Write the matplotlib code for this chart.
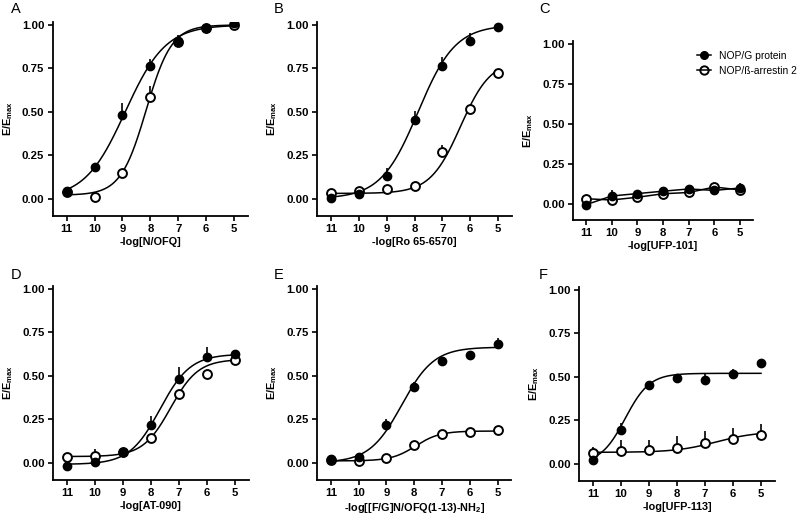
import numpy as np
import matplotlib
matplotlib.use("Agg")
import matplotlib.pyplot as plt
from matplotlib.lines import Line2D

plt.rcParams['font.family'] = ['Liberation Sans', 'DejaVu Sans']
plt.rcParams['mathtext.default'] = 'regular'

# ---------------- data ----------------
log_conc = [11, 10, 9, 8, 7, 6, 5]
x_ticks = [11, 10, 9, 8, 7, 6, 5]
y_ticks = [0.00, 0.25, 0.50, 0.75, 1.00]
y_ticklabels = ["0.00", "0.25", "0.50", "0.75", "1.00"]

panel_letters = ["A", "B", "C", "D", "E", "F"]
x_labels = ["-log[N/OFQ]", "-log[Ro 65-6570]", "-log[UFP-101]",
            "-log[AT-090]", r"-log[[F/G]N/OFQ(1-13)-NH$_2$]", "-log[UFP-113]"]
y_label = r"E/E$_{max}$"
legend_labels = ["NOP/G protein", "NOP/ß-arrestin 2"]

# NOP/G protein (filled) means and upward SEM
A_g = [0.045, 0.18, 0.48, 0.765, 0.91, 0.98, 1.01]
A_g_err = [0.0, 0.02, 0.07, 0.04, 0.03, 0.01, 0.01]
B_g = [0.005, 0.025, 0.13, 0.45, 0.765, 0.91, 0.99]
B_g_err = [0.0, 0.01, 0.045, 0.055, 0.05, 0.045, 0.02]
C_g = [-0.005, 0.05, 0.065, 0.08, 0.094, 0.085, 0.10]
C_g_err = [0.01, 0.04, 0.015, 0.02, 0.015, 0.01, 0.03]
D_g = [-0.019, 0.006, 0.063, 0.218, 0.483, 0.607, 0.626]
D_g_err = [0.01, 0.01, 0.01, 0.05, 0.065, 0.06, 0.02]
E_g = [0.023, 0.034, 0.218, 0.433, 0.586, 0.619, 0.682]
E_g_err = [0.01, 0.015, 0.035, 0.03, 0.025, 0.01, 0.035]
F_g = [0.019, 0.196, 0.45, 0.494, 0.481, 0.517, 0.581]
F_g_err = [0.01, 0.04, 0.01, 0.01, 0.035, 0.03, 0.01]

# NOP/beta-arrestin 2 (open) means and upward SEM
A_a = [0.04, 0.01, 0.145, 0.585, 0.90, 0.985, 1.0]
A_a_err = [0.0, 0.01, 0.02, 0.065, 0.01, 0.01, 0.005]
B_a = [0.03, 0.045, 0.055, 0.07, 0.27, 0.515, 0.725]
B_a_err = [0.0, 0.01, 0.01, 0.01, 0.04, 0.01, 0.01]
C_a = [0.033, 0.025, 0.042, 0.064, 0.072, 0.106, 0.088]
C_a_err = [0.01, 0.01, 0.01, 0.01, 0.01, 0.01, 0.01]
D_a = [0.034, 0.038, 0.06, 0.142, 0.398, 0.513, 0.59]
D_a_err = [0.01, 0.04, 0.01, 0.01, 0.01, 0.01, 0.01]
E_a = [0.013, 0.008, 0.027, 0.103, 0.167, 0.176, 0.188]
E_a_err = [0.005, 0.005, 0.005, 0.005, 0.005, 0.005, 0.005]
F_a = [0.062, 0.071, 0.077, 0.092, 0.119, 0.14, 0.165]
F_a_err = [0.035, 0.065, 0.06, 0.07, 0.07, 0.068, 0.062]

# sigmoid fit parameters: bottom, top, pEC50, Hill slope (None = connect points)
A_g_fit = [0.0, 1.0, 8.9, 0.6]
A_a_fit = [0.02, 1.0, 8.15, 0.95]
B_g_fit = [0.0, 1.0, 7.87, 0.65]
B_a_fit = [0.03, 0.80, 6.35, 0.8]
C_g_fit = None
C_a_fit = None
D_g_fit = [-0.01, 0.625, 7.68, 0.8]
D_a_fit = [0.035, 0.595, 7.3, 0.88]
E_g_fit = [0.0, 0.665, 8.45, 0.75]
E_a_fit = [0.01, 0.182, 7.95, 1.0]
F_g_fit = [0.0, 0.52, 9.85, 1.0]
F_a_fit = [0.065, 0.185, 6.6, 0.6]

g_data = [A_g, B_g, C_g, D_g, E_g, F_g]
g_errs = [A_g_err, B_g_err, C_g_err, D_g_err, E_g_err, F_g_err]
a_data = [A_a, B_a, C_a, D_a, E_a, F_a]
a_errs = [A_a_err, B_a_err, C_a_err, D_a_err, E_a_err, F_a_err]
g_fits = [A_g_fit, B_g_fit, C_g_fit, D_g_fit, E_g_fit, F_g_fit]
a_fits = [A_a_fit, B_a_fit, C_a_fit, D_a_fit, E_a_fit, F_a_fit]


def logistic(x, b, t, p, h):
    return b + (t - b) / (1.0 + 10 ** (h * (x - p)))


# ---------------- layout (pixels) ----------------
W, H = 800, 515
fig = plt.figure(figsize=(8.0, 5.15), dpi=100)
boxes = [  # left, right, bottom, top
    (52.7, 248, 216, 21.5),
    (317, 512, 216, 21.5),
    (573, 753, 220, 40.8),
    (53, 249, 480, 285.5),
    (317, 511.5, 480, 285.5),
    (579, 775, 481, 286.5),
]
letter_pos = [(11, 9), (274, 9), (539, 9), (11, 275), (274, 275), (539, 275)]

tick_font = dict(family='Liberation Sans', weight='bold', size=8.2)
xcurve = np.linspace(11, 5, 300)

for i, (l, r, b, t) in enumerate(boxes):
    ax = fig.add_axes([l / W, 1 - b / H, (r - l) / W, (b - t) / H])
    ax.set_xlim(11.5, 4.5)
    ax.set_ylim(-0.1, 1.02)
    for s in ['top', 'right']:
        ax.spines[s].set_visible(False)
    for s in ['left', 'bottom']:
        ax.spines[s].set_linewidth(1.3)
    ax.set_xticks(x_ticks)
    ax.set_xticklabels([str(v) for v in x_ticks], fontdict=tick_font)
    ax.set_yticks(y_ticks)
    ax.set_yticklabels(y_ticklabels, fontdict=tick_font)
    ax.tick_params(direction='out', length=3.5, width=1.2, pad=2.5)

    # fit curves or connecting lines
    for data, fit in [(g_data[i], g_fits[i]), (a_data[i], a_fits[i])]:
        if fit is None:
            ax.plot(log_conc, data, color='black', lw=1.1, zorder=2)
        else:
            ax.plot(xcurve, logistic(xcurve, *fit), color='black', lw=1.1, zorder=2)

    # error bars (upward only)
    zeros = [0] * len(log_conc)
    ax.errorbar(log_conc, g_data[i], yerr=[zeros, g_errs[i]], fmt='none',
                ecolor='black', elinewidth=1.2, capsize=0, zorder=3)
    ax.errorbar(log_conc, a_data[i], yerr=[zeros, a_errs[i]], fmt='none',
                ecolor='black', elinewidth=1.2, capsize=0, zorder=3)

    # markers
    ax.plot(log_conc, a_data[i], linestyle='none', marker='o', markersize=6.4,
            markerfacecolor='white', markeredgecolor='black', markeredgewidth=1.4,
            zorder=4)
    ax.plot(log_conc, g_data[i], linestyle='none', marker='o', markersize=6.0,
            markerfacecolor='black', markeredgecolor='black', zorder=5)

    ax.set_xlabel(x_labels[i], fontsize=7.8, fontweight='bold', labelpad=2)
    ax.set_ylabel(y_label, fontsize=7.8, fontweight='bold', labelpad=5)

    fig.text(letter_pos[i][0] / W, 1 - letter_pos[i][1] / H, panel_letters[i],
             fontsize=10.5, ha='left', va='center')

    if i == 2:
        handles = [
            Line2D([], [], color='black', lw=1.1, marker='o', markersize=5.5,
                   markerfacecolor='black'),
            Line2D([], [], color='black', lw=1.1, marker='o', markersize=6.0,
                   markerfacecolor='none', markeredgewidth=1.4),
        ]
        fig.legend(handles, legend_labels, loc='upper left',
                   bbox_to_anchor=(697 / W, 1 - 51 / H), frameon=False,
                   fontsize=7.4, handlelength=1.4, handletextpad=0.7,
                   labelspacing=0.45, borderaxespad=0, borderpad=0)

fig.savefig("out.png", dpi=100)
